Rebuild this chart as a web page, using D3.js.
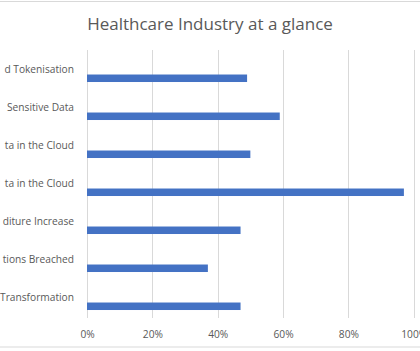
<!DOCTYPE html>
<html>
<head>
<meta charset="utf-8">
<script src="https://cdn.jsdelivr.net/npm/d3@7"></script>
<style>
  body { margin: 0; background: #fff; }
  svg { display: block; }
</style>
</head>
<body>
<svg id="chart" width="420" height="351"></svg>
<script>
// categories as they show in the picture (cut at the left edge)
var categories = [
  "d Tokenisation",
  "Sensitive Data",
  "ta in the Cloud",
  "ta in the Cloud ",
  "diture Increase",
  "tions Breached",
  "Transformation"
];
var values = [0.49, 0.59, 0.50, 0.97, 0.47, 0.37, 0.47];
var ticks = [0, 0.2, 0.4, 0.6, 0.8, 1.0];

var svg = d3.select("#chart"),
    margin = { top: 50, right: 6, bottom: 35, left: 87 },
    iwidth = +svg.attr("width") - margin.left - margin.right,
    iheight = +svg.attr("height") - margin.top - margin.bottom;

// chart area border (only top and bottom are inside the window)
svg.append("rect")
  .attr("x", -10).attr("y", 1.5)
  .attr("width", 440).attr("height", 345.5)
  .attr("fill", "none")
  .attr("stroke", "#d9d9d9");

svg.append("text")
  .attr("x", 210)
  .attr("y", 30)
  .attr("text-anchor", "middle")
  .attr("font-family", "'Open Sans', sans-serif")
  .attr("font-size", 17)
  .attr("fill", "#595959")
  .text("Healthcare Industry at a glance");

var g = svg.append("g").attr("transform", "translate(" + margin.left + "," + margin.top + ")");

var x = d3.scaleLinear().domain([0, 1]).range([0, 326.7]);
var y = d3.scaleBand().domain(categories).range([0, iheight]);

// gridlines
g.append("g")
  .selectAll("line")
  .data(ticks).enter().append("line")
    .attr("x1", d => Math.round(x(d)) + 0.5)
    .attr("x2", d => Math.round(x(d)) + 0.5)
    .attr("y1", 0)
    .attr("y2", iheight + 2)
    .attr("stroke", "#d9d9d9")
    .attr("stroke-width", 1);

// bars sit in the lower half of each band
g.append("g")
  .selectAll("rect")
  .data(values).enter().append("rect")
    .attr("x", x(0))
    .attr("y", (d, i) => y(categories[i]) + y.bandwidth() * 0.645)
    .attr("width", d => x(d) - x(0))
    .attr("height", 7.5)
    .attr("fill", "#4472c4");

// category labels
g.append("g")
  .selectAll("text")
  .data(categories).enter().append("text")
    .attr("x", -13)
    .attr("y", d => y(d) + y.bandwidth() / 2)
    .attr("dy", "0.38em")
    .attr("text-anchor", "end")
    .attr("font-family", "'Open Sans', sans-serif")
    .attr("font-size", 10.2)
    .attr("fill", "#595959")
    .text(d => d.trim());

// x axis tick labels
var xAxis = g.append("g")
  .attr("transform", "translate(0," + iheight + ")")
  .call(d3.axisBottom(x).tickValues(ticks).tickFormat(d3.format(".0%")).tickSize(0).tickPadding(15));
xAxis.select(".domain").remove();
xAxis.selectAll("text")
  .attr("font-family", "'Open Sans', sans-serif")
  .attr("font-size", 10.2)
  .attr("fill", "#595959");
</script>
</body>
</html>
